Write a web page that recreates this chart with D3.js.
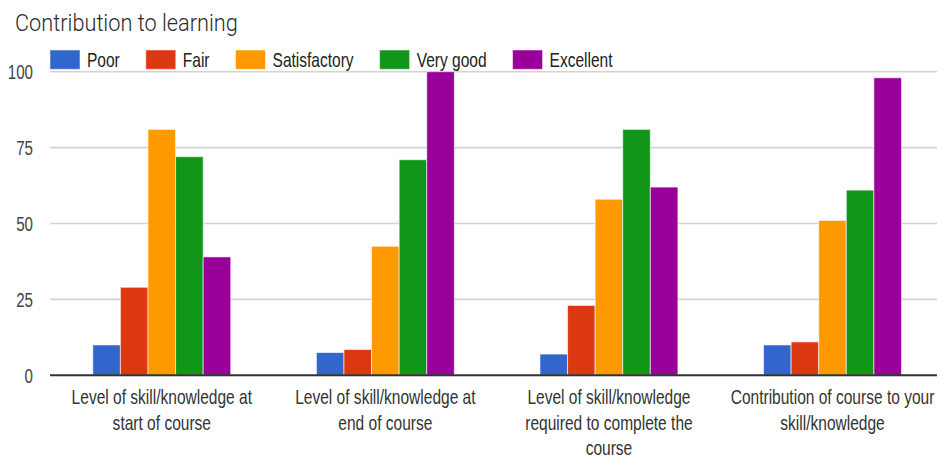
<!DOCTYPE html>
<html><head><meta charset="utf-8">
<script src="https://cdn.jsdelivr.net/npm/d3@7"></script>
<style>
html,body{margin:0;padding:0;background:#fff;}
svg{display:block;font-family:"Liberation Sans",Arial,sans-serif;}
</style></head>
<body>
<svg id="chart" width="937" height="459"></svg>
<script>
const title = "Contribution to learning";
const categories = [
  "Level of skill/knowledge at start of course",
  "Level of skill/knowledge at end of course",
  "Level of skill/knowledge required to complete the course",
  "Contribution of course to your skill/knowledge"
];
const categoryLines = [
  ["Level of skill/knowledge at", "start of course"],
  ["Level of skill/knowledge at", "end of course"],
  ["Level of skill/knowledge", "required to complete the", "course"],
  ["Contribution of course to your", "skill/knowledge"]
];
const seriesNames = ["Poor", "Fair", "Satisfactory", "Very good", "Excellent"];
const poor = [10, 7.5, 7, 10];
const fair = [29, 8.5, 23, 11];
const satisfactory = [81, 42.5, 58, 51];
const veryGood = [72, 71, 81, 61];
const excellent = [39, 100, 62, 98];
const yTicks = [0, 25, 50, 75, 100];
const colors = ["#3366cc", "#dc3912", "#ff9900", "#109618", "#990099"];

const seriesValues = [poor, fair, satisfactory, veryGood, excellent];
const SX = 0.777; // horizontal squeeze of the reference text

const svg = d3.select("#chart");
const plotLeft = 50, plotRight = 944.3, plotTop = 71.7, plotBottom = 375.3;

const x0 = d3.scaleBand().domain(categories).range([plotLeft, plotRight]).paddingInner(0.383).paddingOuter(0.1915);
const x1 = d3.scaleBand().domain(seriesNames).range([0, x0.bandwidth()]).padding(0);
const y = d3.scaleLinear().domain([0, 100]).range([plotBottom, plotTop]);
const color = d3.scaleOrdinal().domain(seriesNames).range(colors);

// gridlines
svg.append("g").selectAll("line").data(yTicks.filter(d => d !== 0)).join("line")
  .attr("x1", plotLeft).attr("x2", plotRight)
  .attr("y1", d => y(d)).attr("y2", d => y(d))
  .attr("stroke", "#d3d3d3").attr("stroke-width", 1.6);

// title
const titleText = svg.append("text").text(title)
  .attr("font-family", "Roboto, 'Liberation Sans', Arial, sans-serif")
  .attr("font-weight", 300)
  .attr("font-size", 24).attr("fill", "#2a2a2a");
const titleW = titleText.node().getComputedTextLength();
titleText.attr("transform", `translate(15,30.5) scale(${223 / titleW},1)`);

// legend
const legend = svg.append("g");
let lx = 50;
seriesNames.forEach((name, i) => {
  const g = legend.append("g").attr("transform", `translate(${lx},0)`);
  g.append("rect").attr("x", 0).attr("y", 50).attr("width", 30).attr("height", 19.3)
    .attr("fill", color(name)).attr("stroke", "#fff").attr("stroke-opacity", 0.5).attr("stroke-width", 1);
  const t = g.append("text").text(name)
    .attr("transform", `translate(37,67.3) scale(${SX},1)`)
    .attr("font-size", 20).attr("fill", "#222");
  const w = t.node().getComputedTextLength() * SX;
  lx += 37 + w + 26;
});

// bars
const groups = svg.append("g").selectAll("g").data(categories).join("g")
  .attr("transform", d => `translate(${x0(d)},0)`);
groups.selectAll("rect")
  .data((d, ci) => seriesNames.map((s, si) => ({ s, v: seriesValues[si][ci] })))
  .join("rect")
  .attr("x", d => x1(d.s))
  .attr("width", x1.bandwidth())
  .attr("y", d => y(d.v))
  .attr("height", d => y(0) - y(d.v))
  .attr("fill", d => color(d.s))
  .attr("stroke", "#fff").attr("stroke-opacity", 0.6).attr("stroke-width", 1);

// y axis
const yAxis = svg.append("g").attr("transform", `translate(${plotLeft},0)`)
  .call(d3.axisLeft(y).tickValues(yTicks).tickSize(0).tickPadding(17));
yAxis.select(".domain").remove();
yAxis.selectAll("text")
  .attr("x", null).attr("dy", "0.35em")
  .attr("transform", `translate(-17,0) scale(${SX},1)`)
  .attr("font-size", 19.5).attr("fill", "#444")
  .attr("font-family", "Liberation Sans, Arial, sans-serif");

// x axis
const xAxis = svg.append("g").attr("transform", `translate(0,${plotBottom})`)
  .call(d3.axisBottom(x0).tickSize(0).tickPadding(0));
xAxis.select(".domain").attr("stroke", "#333").attr("stroke-width", 2)
  .attr("d", `M${plotLeft},0H${plotRight}`);
xAxis.selectAll(".tick text").each(function(d) {
  const i = categories.indexOf(d);
  const t = d3.select(this);
  t.text(null).attr("y", null).attr("dy", null)
    .attr("transform", `translate(0,0) scale(${SX},1)`)
    .attr("font-size", 20).attr("fill", "#333")
    .attr("font-family", "Liberation Sans, Arial, sans-serif")
    .attr("text-anchor", "middle");
  categoryLines[i].forEach((line, k) => {
    t.append("tspan").attr("x", 0).attr("y", 29 + k * 25.3).text(line);
  });
});
</script>
</body></html>
